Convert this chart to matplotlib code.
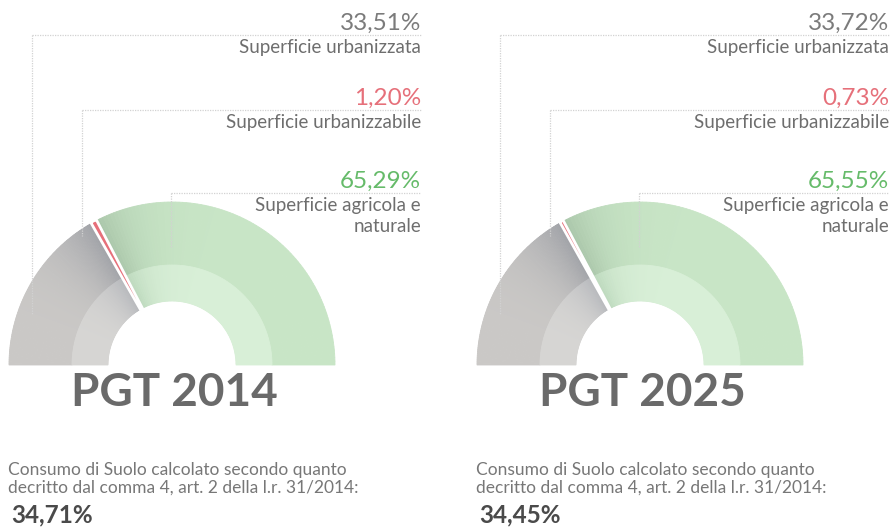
import numpy as np
import matplotlib
matplotlib.use('Agg')
import matplotlib.pyplot as plt
from matplotlib.patches import Wedge
from matplotlib.colors import to_rgb

plt.rcParams['font.family'] = ['Lato', 'DejaVu Sans']

# land use shares (%) for each plan
titles        = ['PGT 2014', 'PGT 2025']
urbanizzata   = [33.51, 33.72]
urbanizzabile = [1.20, 0.73]
agricola      = [65.29, 65.55]
consumo       = [34.71, 34.45]

labels = [['Superficie urbanizzata'], ['Superficie urbanizzabile'],
          ['Superficie agricola e', 'naturale']]
note = ['Consumo di Suolo calcolato secondo quanto',
        'decritto dal comma 4, art. 2 della l.r. 31/2014:']

W, H = 892, 528
C_GRAY_TXT = '#7b7b7b'
C_RED = '#e6707a'
C_GREEN_TXT = '#66bb6a'
C_LINE = '#d2d2d2'


def fmt(v):
    return ('%.2f' % v).replace('.', ',') + '%'


def Y(y):
    # pixel rows from the top -> axis units
    return H - y


def band(ax, cx, cy, r_out, width, a_near, a_far, c_near, c_far, power, n=90):
    c_near = np.array(to_rgb(c_near))
    c_far = np.array(to_rgb(c_far))
    for i in range(n):
        t0, t1 = i / n, (i + 1) / n
        th0 = a_near + (a_far - a_near) * t0
        th1 = a_near + (a_far - a_near) * t1
        w = (1 - (t0 + t1) / 2) ** power
        col = c_near * w + c_far * (1 - w)
        ax.add_patch(Wedge((cx, cy), r_out, min(th0, th1), max(th0, th1),
                           width=width, fc=col, ec=col, lw=0.6))


def gauge(ax, cx, k):
    cy = Y(365)
    r_out, r_mid, r_in = 163, 100, 64
    a1 = 180 - 180 * urbanizzata[k] / 100
    a2 = a1 - 180 * urbanizzabile[k] / 100

    # urbanizzata (grey), darker towards the split
    band(ax, cx, cy, r_out, r_out - r_mid, a1, 180, '#a0a2a7', '#cac8c6', 4)
    band(ax, cx, cy, r_mid, r_mid - r_in, a1, 180, '#b6b8bc', '#d6d5d3', 4)
    # agricola e naturale (green)
    band(ax, cx, cy, r_out, r_out - r_mid, a2, 0, '#aac6aa', '#c8e5c6', 9)
    band(ax, cx, cy, r_mid, r_mid - r_in, a2, 0, '#bcd8bc', '#d8efd7', 9)
    # urbanizzabile (red)
    ax.add_patch(Wedge((cx, cy), r_out + 1, a2, a1, width=r_out + 1 - r_in,
                       fc=C_RED, ec='white', lw=2))

    ax.text(cx + 2, Y(406), titles[k], ha='center', va='baseline',
            fontsize=33, fontweight='bold', color='#6a6a6a')

    # labels with dotted leaders
    xr = cx + 249
    vals = [urbanizzata[k], urbanizzabile[k], agricola[k]]
    cols = [C_GRAY_TXT, C_RED, C_GREEN_TXT]
    y_line = [35, 110, 193]
    x_off = [-140, -90, -1]
    y_end = [315, 236, 247]
    for i in range(3):
        ax.text(xr, Y(y_line[i] - 5), fmt(vals[i]), ha='right', va='baseline',
                fontsize=17.5, color=cols[i])
        for j, line in enumerate(labels[i]):
            ax.text(xr, Y(y_line[i] + 18 + 21 * j), line, ha='right',
                    va='baseline', fontsize=13.5, color='#6e6e6e')
        xv = cx + x_off[i]
        ax.plot([xv, xr], [Y(y_line[i]), Y(y_line[i])], ls=(0, (1, 1)),
                color=C_LINE, lw=0.9, zorder=0.5)
        ax.plot([xv, xv], [Y(y_line[i]), Y(y_end[i])], ls=(0, (1, 1)),
                color=C_LINE, lw=0.9, zorder=3)

    xl = cx - 164
    for j, line in enumerate(note):
        ax.text(xl, Y(475 + 18 * j), line, ha='left', va='baseline',
                fontsize=12.5, color='#777777')
    ax.text(xl + 3, Y(522), fmt(consumo[k]), ha='left', va='baseline',
            fontsize=17.5, fontweight='bold', color='#4a4a4a')


fig = plt.figure(figsize=(W / 100, H / 100), dpi=100)
ax = fig.add_axes([0, 0, 1, 1])
ax.set_xlim(0, W)
ax.set_ylim(0, H)
ax.axis('off')

gauge(ax, 172, 0)
gauge(ax, 640, 1)

fig.savefig('out.png', dpi=100, facecolor='white')
